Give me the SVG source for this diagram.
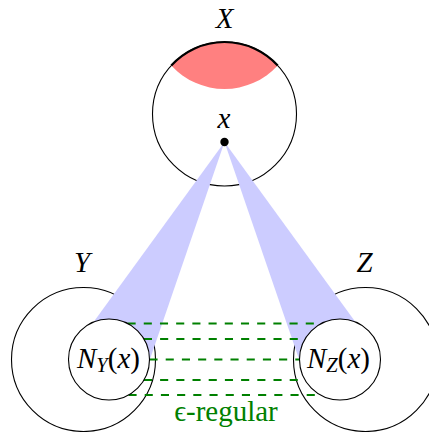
<svg xmlns="http://www.w3.org/2000/svg" width="429" height="432" viewBox="0 0 429 432">
<defs>
<style>
.big{fill:none;stroke:#000;stroke-width:1.1}
.inner{fill:#fff;stroke:#000;stroke-width:1.1}
.beam{fill:#ccccff;stroke:none}
.lbl{font-family:"Liberation Serif","DejaVu Serif","Times New Roman",Times,serif;font-size:29px;fill:#000;text-anchor:middle}
.it{font-style:italic}
.reg{stroke:#008000;stroke-width:2.2;stroke-dasharray:8.1 8.1;fill:none}
</style>
</defs>
<rect width="429" height="432" fill="#fff"/>
<g id="X">
<circle class="big" cx="224.5" cy="114" r="72"/>
<path d="M171.29,65.5 A72 72 0 0 1 277.71,65.5 A72 72 0 0 1 171.29,65.5 Z" fill="#ff8080"/>
<path d="M171.29,65.5 A72 72 0 0 1 277.71,65.5" fill="none" stroke="#000" stroke-width="2.2"/>
<text class="lbl it" x="224.5" y="28">X</text>
</g>
<g id="Y">
<circle class="big" cx="83.5" cy="359.5" r="72"/>
<text class="lbl it" x="82" y="271.5">Y</text>
</g>
<g id="Z">
<circle class="big" cx="365.5" cy="359.5" r="72"/>
<text class="lbl it" x="364.5" y="271.5">Z</text>
</g>
<g id="beams">
<polygon class="beam" points="224.5,142 80.5,340 149,362"/>
<polygon class="beam" points="224.5,142 368.5,340 300,362"/>
</g>
<g id="connectors">
<line class="reg" x1="127.55" y1="323.5" x2="321.45" y2="323.5"/>
<line class="reg" x1="143.9" y1="339" x2="305.1" y2="339"/>
<line class="reg" x1="149.5" y1="359.5" x2="299.5" y2="359.5"/>
<line class="reg" x1="143.9" y1="380" x2="305.1" y2="380"/>
<line class="reg" x1="128.5" y1="395" x2="320.5" y2="395"/>
<text class="lbl" x="226" y="421" style="fill:#008000">ϵ-regular</text>
</g>
<g id="NY">
<circle class="inner" cx="109" cy="359.5" r="40.5"/>
<text class="lbl" x="108.5" y="367.5"><tspan class="it">N</tspan><tspan class="it" font-size="20.5" dy="4.5">Y</tspan><tspan dy="-4.5">(</tspan><tspan class="it">x</tspan><tspan>)</tspan></text>
</g>
<g id="NZ">
<circle class="inner" cx="340" cy="359.5" r="40.5"/>
<text class="lbl" x="338.5" y="367.5"><tspan class="it">N</tspan><tspan class="it" font-size="20.5" dy="4.5">Z</tspan><tspan dy="-4.5">(</tspan><tspan class="it">x</tspan><tspan>)</tspan></text>
</g>
<g id="x">
<circle cx="224.5" cy="142" r="4.2" fill="#000"/>
<text class="lbl it" x="224" y="128">x</text>
</g>
</svg>
